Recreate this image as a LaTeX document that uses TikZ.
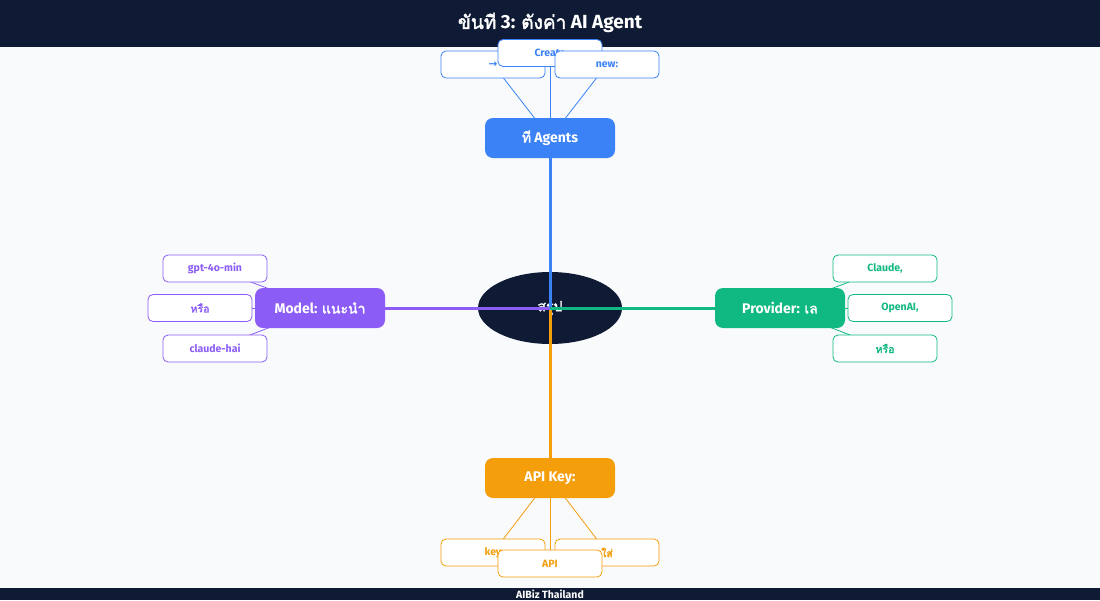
\documentclass[tikz,border=0pt]{standalone}
\usepackage{fontspec}
\setmainfont{Fira Sans}
\newfontfamily\thaifont[Script=Thai,AutoFakeBold=2]{Loma}
\newfontfamily\symfont{DejaVu Sans}
\newcommand\thx[1]{{\thaifont #1}}
\usetikzlibrary{shapes.geometric}
\definecolor{navy}{HTML}{0F1B35}
\definecolor{bgc}{HTML}{F8FAFC}
\definecolor{cblue}{HTML}{3B82F6}
\definecolor{cpurple}{HTML}{8B5CF6}
\definecolor{cgreen}{HTML}{10B981}
\definecolor{corange}{HTML}{F59E0B}
\pgfdeclarelayer{back}
\pgfdeclarelayer{lower}
\pgfdeclarelayer{mid}
\pgfsetlayers{back,lower,mid,main}
\tikzset{
  hub/.style={fill=#1, rounded corners=8pt, minimum width=130pt, minimum height=40pt,
    inner sep=0pt, text=white, font=\bfseries\fontsize{14}{16}\selectfont},
  leaf/.style={draw=#1, fill=white, text=#1, rounded corners=5pt, minimum width=104pt,
    minimum height=27pt, inner sep=0pt, line width=0.8pt, font=\bfseries\fontsize{10.5}{12}\selectfont},
  mainline/.style={draw=#1, line width=3pt},
  thinline/.style={draw=#1, line width=0.8pt},
}
\begin{document}
\begin{tikzpicture}[x=1pt,y=-1pt]
\useasboundingbox (0,0) rectangle (1100,600);
\begin{pgfonlayer}{back}
\fill[bgc] (0,0) rectangle (1100,600);
\end{pgfonlayer}
\fill[navy] (0,0) rectangle (1100,47);
\fill[navy] (0,588) rectangle (1100,600);
\node[text=white, font=\bfseries\fontsize{19}{21}\selectfont] (title) at (550,23) {\thx{ขันที} 3: \thx{ตังค่า} AI Agent};
\node[text=white, font=\bfseries\fontsize{10.5}{11}\selectfont] (footer) at (550,594) {AIBiz Thailand};

\begin{pgfonlayer}{lower}
\node[ellipse, fill=navy, minimum width=144pt, minimum height=72pt, inner sep=0pt,
  text=white, font=\bfseries\fontsize{14}{16}\selectfont] (hubc) at (550,308) {\thx{สรุป}};
\end{pgfonlayer}

% top
\node[leaf=cblue] (t1) at (493,64.5) {{\symfont\bfseries →}};
\node[leaf=cblue] (t2) at (550,53) {Create};
\node[leaf=cblue] (t3) at (607,64.5) {new:};
\node[hub=cblue] (top) at (550,138) {\thx{ที} Agents};
% left
\node[leaf=cpurple] (l1) at (215,268.5) {gpt-4o-min};
\node[leaf=cpurple] (l2) at (200,308) {\thx{หรือ}};
\node[leaf=cpurple] (l3) at (215,348.5) {claude-hai};
\node[hub=cpurple] (left) at (320,308) {Model: \thx{แนะนำ}};
% right
\node[leaf=cgreen] (r1) at (885,268.5) {Claude,};
\node[leaf=cgreen] (r2) at (900,308) {OpenAI,};
\node[leaf=cgreen] (r3) at (885,348.5) {\thx{หรือ}};
\node[hub=cgreen] (right) at (780,308) {Provider: \thx{เล}};
% bottom
\node[leaf=corange] (b1) at (493,552.5) {key};
\node[leaf=corange] (b3) at (607,552.5) {\thx{ใส่}};
\node[leaf=corange] (b2) at (550,563.5) {API};
\node[hub=corange] (bottom) at (550,478) {API Key:};

\begin{pgfonlayer}{mid}
\draw[mainline=cblue] (hubc.center) -- (top.center);
\draw[mainline=corange] (hubc.center) -- (bottom.center);
\draw[mainline=cpurple] (hubc.center) -- (left.center);
\draw[mainline=cgreen] (hubc.center) -- (right.center);
\foreach \n in {t1,t2,t3} \draw[thinline=cblue] (top.center) -- (\n.center);
\foreach \n in {l1,l2,l3} \draw[thinline=cpurple] (left.center) -- (\n.center);
\foreach \n in {r1,r2,r3} \draw[thinline=cgreen] (right.center) -- (\n.center);
\foreach \n in {b1,b2,b3} \draw[thinline=corange] (bottom.center) -- (\n.center);
\end{pgfonlayer}
\end{tikzpicture}
\end{document}
